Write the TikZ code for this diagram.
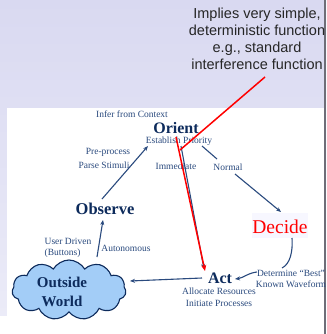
\documentclass[tikz,border=0pt]{standalone}
\usepackage{fontspec}
\setmainfont{Liberation Serif}
\newfontfamily\calloutfont{Liberation Sans}
\usetikzlibrary{arrows.meta,shapes.symbols}

\definecolor{navy}{HTML}{0D2B5C}
\definecolor{navysoft}{HTML}{2A4A7E}
\definecolor{lavtop}{HTML}{D9D9F1}
\definecolor{lavbot}{HTML}{ECECF8}
\definecolor{cloudblue}{HTML}{A3CDF7}
\definecolor{edgegray}{HTML}{6E6E78}

\tikzset{
  title/.style={font=\bfseries\fontsize{16}{16}\selectfont, text=navy, inner sep=0pt},
  note/.style={font=\fontsize{9.5}{11.5}\selectfont, text=navysoft, inner sep=0pt},
  flow/.style={draw=navysoft, line width=1.1pt, -{Stealth[length=5pt,width=4pt]}},
  link/.style={draw=navysoft, line width=1.1pt},
  hot/.style={draw=red, line width=1.5pt},
}

\begin{document}
\begin{tikzpicture}[x=1pt,y=-1pt]
  \useasboundingbox (0,0) rectangle (326,334);

  % slide background and white panel
  \shade[top color=lavtop, bottom color=lavbot] (0,0) rectangle (326,334);
  \fill[white] (7,108) rectangle (324,316);
  \fill[white] (0,316) rectangle (324,334);
  \draw[edgegray, line width=1.2pt] (325,0) -- (325,334);

  % annotation
  \node[font=\calloutfont\fontsize{14.5}{17}\selectfont, text=black!85, align=center, inner sep=0pt]
    (callout) at (257,39) {Implies very simple,\\deterministic function\\e.g., standard\\interference function};

  % Orient
  \node[title] (orient) at (176,128) {Orient};
  \node[note] (infer) at (132,114) {Infer from Context};
  \node[note] (prio) at (179,141) {Establish Priority};
  \node[note] (pre) at (108,152) {Pre-process};
  \node[note] (parse) at (104,165) {Parse Stimuli};
  \node[note] (imm) at (176,166) {Immediate};
  \node[note] (normal) at (228,167) {Normal};

  % Decide
  \fill[blue!3] (252,213) rectangle (308,238);
  \node[font=\fontsize{19.5}{20}\selectfont, text=red, inner sep=0pt] (decide) at (280,227) {Decide};
  \node[note, align=center] (best) at (291,279) {Determine ``Best''\\Known Waveform};

  % Act
  \node[title] (act) at (220,278) {Act};
  \node[note, align=center] (alloc) at (219,297) {Allocate Resources\\Initiate Processes};

  % Observe
  \node[title, font=\bfseries\fontsize{16.5}{16.5}\selectfont] (observe) at (105,209) {Observe};
  \node[note, align=left] (user) at (68,248) {User Driven\\(Buttons)};
  \node[note] (auto) at (126,248) {Autonomous};

  % Outside world
  \node[cloud, cloud puffs=11, cloud puff arc=120, aspect=1.9, draw=navy, line width=1.1pt,
        fill=cloudblue, minimum width=114pt, minimum height=60pt, inner sep=0pt] (world) at (69,290) {};
  \node[title, font=\bfseries\fontsize{15}{19}\selectfont, align=center] (worldtext) at (62,292) {Outside\\World};

  % connector end points
  \coordinate (w-out) at (97,257);
  \coordinate (obs-in) at (103,220);
  \coordinate (obs-out) at (102,199);
  \coordinate (or-in) at (148,146);
  \coordinate (pr-out) at (202,146);
  \coordinate (nm-in) at (217,159);
  \coordinate (nm-out) at (235,174);
  \coordinate (dc-in) at (281,212);
  \coordinate (or-out) at (181,146);
  \coordinate (act-in) at (204,269);
  \coordinate (hot-start) at (176,137);
  \coordinate (hot-end) at (205,271);
  \coordinate (call-start) at (265,77);
  \coordinate (call-end) at (180,150);
  \coordinate (dc-out) at (292,238);
  \coordinate (bs-in) at (282,268);
  \coordinate (bs-out) at (257,272);
  \coordinate (act-right) at (235,279);
  \coordinate (act-left) at (202,278);
  \coordinate (w-in) at (130,281);

  % flow of the loop
  \draw[flow] (w-out) -- (obs-in);
  \draw[flow] (obs-out) -- (or-in);
  \draw[link] (pr-out) -- (nm-in);
  \draw[flow] (nm-out) -- (dc-in);
  \draw[flow] (or-out) -- (act-in);
  \draw[link] (dc-out) .. controls (293,252) and (290,264) .. (bs-in);
  \draw[flow] (bs-out) .. controls (248,273) and (243,278) .. (act-right);
  \draw[flow] (act-left) -- (w-in);

  % highlighted shortcut
  \draw[hot, -{Stealth[length=6pt,width=5pt]}] (hot-start) -- (hot-end);
  \draw[hot] (call-start) -- (call-end);
\end{tikzpicture}
\end{document}
